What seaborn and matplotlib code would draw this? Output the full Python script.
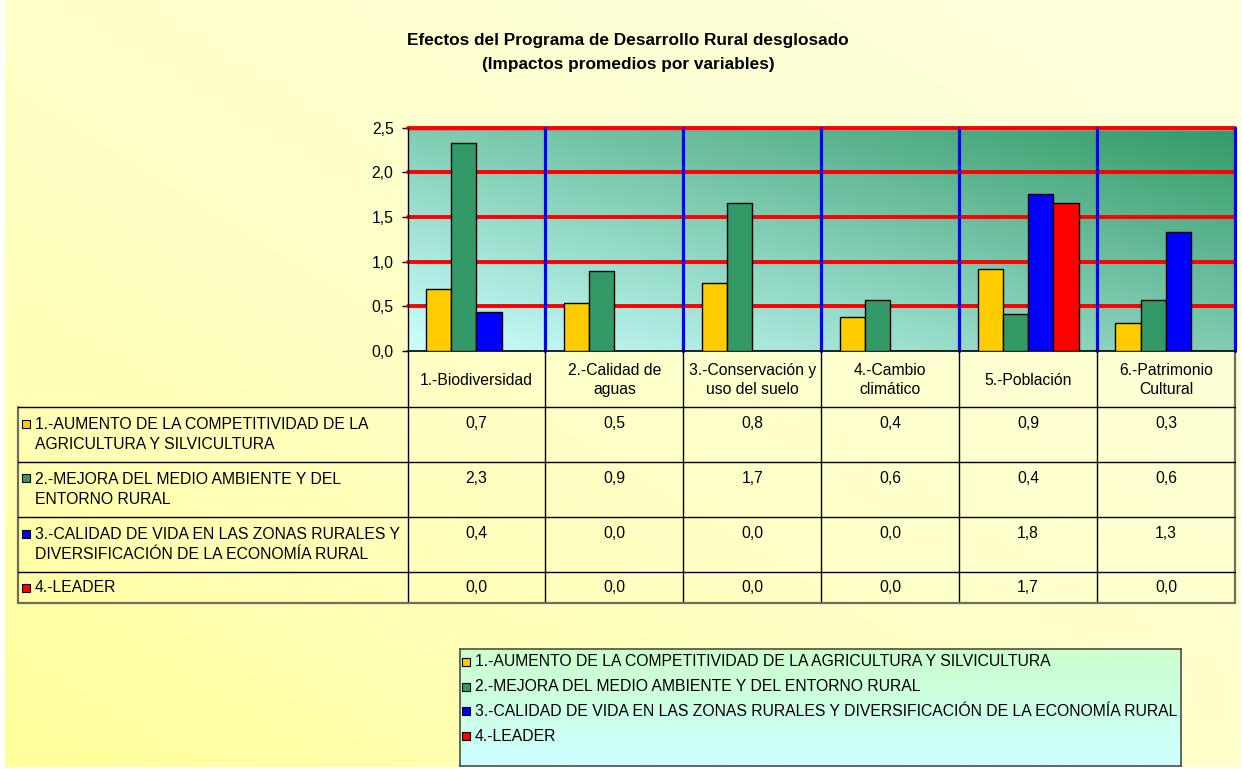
import textwrap
import numpy as np
import pandas as pd
import matplotlib
matplotlib.use("Agg")
import matplotlib.pyplot as plt
from matplotlib.lines import Line2D
from matplotlib.patches import Rectangle
from matplotlib.colors import to_rgb
from matplotlib.ticker import FuncFormatter
import seaborn as sns

# ---- data -------------------------------------------------------------
categories = [
    "1.-Biodiversidad",
    "2.-Calidad de\naguas",
    "3.-Conservación y\nuso del suelo",
    "4.-Cambio\nclimático",
    "5.-Población",
    "6.-Patrimonio\nCultural",
]
series = [
    "1.-AUMENTO DE LA COMPETITIVIDAD DE LA AGRICULTURA Y SILVICULTURA",
    "2.-MEJORA DEL MEDIO AMBIENTE Y DEL ENTORNO RURAL",
    "3.-CALIDAD DE VIDA EN LAS ZONAS RURALES Y DIVERSIFICACIÓN DE LA ECONOMÍA RURAL",
    "4.-LEADER",
]
competitividad = [0.69, 0.54, 0.76, 0.38, 0.92, 0.31]
medio_ambiente = [2.33, 0.90, 1.66, 0.57, 0.41, 0.57]
calidad_vida = [0.44, 0.00, 0.00, 0.00, 1.76, 1.33]
leader = [0.00, 0.00, 0.00, 0.00, 1.66, 0.00]
series_values = [competitividad, medio_ambiente, calidad_vida, leader]
yticks = [0.0, 0.5, 1.0, 1.5, 2.0, 2.5]
title_lines = ["Efectos del Programa de Desarrollo Rural desglosado",
               "(Impactos promedios por variables)"]

colors = ["#FFCC00", "#339966", "#0000FF", "#FF0000"]

rows = []
for s, vals in zip(series, series_values):
    for c, v in zip(categories, vals):
        rows.append({"categoria": c, "serie": s, "valor": v})
df = pd.DataFrame(rows)


def fmt(v):
    return f"{v:.1f}".replace(".", ",")


# ---- figure -----------------------------------------------------------
sns.set_theme(style="white")
plt.rcParams["font.family"] = ["Liberation Sans", "DejaVu Sans"]
FS = 11.3

W, H = 1242, 769
PL, PR, PT, PB = 407.5, 1235.0, 127.5, 351.0   # plot area, pixels
fig = plt.figure(figsize=(W / 100, H / 100), dpi=100)
fig.patch.set_facecolor("white")


def fx(x):
    return x / W


def fy(y):
    return 1 - y / H


# pale yellow diagonal gradient behind the whole chart
bg = fig.add_axes([fx(5), fy(767), fx(1241) - fx(5), fy(0) - fy(767)])
bg.set_axis_off()
u = np.linspace(0, 1, 400)[None, :]
v = np.linspace(0, 1, 300)[:, None]
t = (((1 - u) + v) / 2) ** 2.0
c0, c1 = np.array(to_rgb("#FFFFDA")), np.array(to_rgb("#FFFF99"))
bg.imshow(c0 + (c1 - c0) * t[..., None], aspect="auto", extent=[0, 1, 0, 1])

# ---- bars -------------------------------------------------------------
ax = fig.add_axes([fx(PL), fy(PB), fx(PR) - fx(PL), fy(PT) - fy(PB)])
sns.barplot(data=df, x="categoria", y="valor", hue="serie",
            order=categories, hue_order=series, palette=colors,
            width=0.733, gap=0, saturation=1, errorbar=None,
            edgecolor="black", linewidth=1.0, legend=False, ax=ax)
for p in ax.patches:
    p.set_zorder(3)

# cyan -> green diagonal gradient inside the plot area
u2 = np.linspace(0, 1, 400)[None, :]
v2 = np.linspace(0, 1, 200)[:, None]
t2 = (u2 + (1 - v2)) / 2
g0, g1 = np.array(to_rgb("#CCFFFF")), np.array(to_rgb("#339966"))
ax.imshow(g0 + (g1 - g0) * t2[..., None], aspect="auto",
          extent=[0, 1, 0, 1], transform=ax.transAxes, zorder=0)

# thin grey frame line just under the top gridline
ax.axhline(2.47, color="#8A9A96", lw=0.8, zorder=1)
for yv in yticks[1:]:
    ax.axhline(yv, color="#FF0000", lw=2.8, zorder=1, clip_on=False)
for i in range(len(categories)):
    ax.axvline(i + 0.5, color="#0000FF", lw=2.3, zorder=1, clip_on=False)

ax.set_xlim(-0.5, len(categories) - 0.5)
ax.set_ylim(0, 2.5)
ax.set_yticks(yticks)
ax.yaxis.set_major_formatter(FuncFormatter(lambda val, pos: fmt(val)))
ax.set_xticks([])
ax.set_xlabel("")
ax.set_ylabel("")
ax.tick_params(axis="y", left=True, length=4, width=1, color="black",
               direction="out", labelsize=FS, pad=6, labelcolor="black")
for side in ("top", "right"):
    ax.spines[side].set_visible(False)
ax.spines["left"].set_color("black")
ax.spines["left"].set_linewidth(1.0)
ax.spines["bottom"].set_color("black")
ax.spines["bottom"].set_linewidth(1.2)
ax.set_zorder(2)

# ---- title ------------------------------------------------------------
fig.text(fx(628), fy(40), title_lines[0], ha="center", va="center",
         fontsize=12.4, fontweight="bold", color="black")
fig.text(fx(628), fy(64), title_lines[1], ha="center", va="center",
         fontsize=12.4, fontweight="bold", color="black")

# ---- data table -------------------------------------------------------
TL = 18.0
row_edges = [407.0, 462.0, 517.0, 572.0, 603.0]
bounds = [PL + i * (PR - PL) / len(categories) for i in range(len(categories) + 1)]


def hline(x0, x1, y, color="black", lw=1.0):
    fig.add_artist(Line2D([fx(x0), fx(x1)], [fy(y), fy(y)],
                          transform=fig.transFigure, color=color, lw=lw))


def vline(x, y0, y1, color="black", lw=1.0):
    fig.add_artist(Line2D([fx(x), fx(x)], [fy(y0), fy(y1)],
                          transform=fig.transFigure, color=color, lw=lw))


edge_gray = "#6E6E5A"
for b in bounds[:-1]:
    vline(b, PB, row_edges[-1])
vline(bounds[-1], PB, row_edges[-1], color=edge_gray, lw=1.6)
vline(TL, row_edges[0], row_edges[-1], color=edge_gray, lw=1.6)
for y in row_edges[:-1]:
    hline(TL, PR, y)
hline(TL, PR, row_edges[-1], color=edge_gray, lw=1.6)

# category headers
for i, c in enumerate(categories):
    fig.text(fx((bounds[i] + bounds[i + 1]) / 2), fy((PB + row_edges[0]) / 2 + 1),
             c, ha="center", va="center", fontsize=FS, linespacing=1.4,
             color="black")

# series rows
for r, (s, vals, col) in enumerate(zip(series, series_values, colors)):
    y0, y1 = row_edges[r], row_edges[r + 1]
    label = textwrap.fill(s, width=41)
    nlines = label.count("\n") + 1
    yc = (y0 + y1) / 2
    first = yc - (nlines - 1) * 11
    fig.text(fx(35), fy(yc), label, ha="left", va="center", fontsize=FS,
             linespacing=1.4, color="black")
    fig.add_artist(Rectangle((fx(22), fy(first + 4)), fx(8), 8 / H,
                             transform=fig.transFigure, facecolor=col,
                             edgecolor="black", lw=0.8))
    for i, val in enumerate(vals):
        fig.text(fx((bounds[i] + bounds[i + 1]) / 2), fy(first), fmt(val),
                 ha="center", va="center", fontsize=FS, color="black")

# ---- legend box -------------------------------------------------------
LX0, LX1, LY0, LY1 = 460.0, 1181.0, 649.0, 766.0
lg = fig.add_axes([fx(LX0), fy(LY1), fx(LX1) - fx(LX0), fy(LY0) - fy(LY1)])
tv = np.linspace(0, 1, 100)[:, None, None]
l0, l1 = np.array(to_rgb("#CCFFCC")), np.array(to_rgb("#CCFFFF"))
lg.imshow(l0 + (l1 - l0) * tv * np.ones((1, 10, 1)), aspect="auto",
          extent=[0, 1, 0, 1])
lg.set_xticks([])
lg.set_yticks([])
for sp in lg.spines.values():
    sp.set_color("#4D4D4D")
    sp.set_linewidth(1.2)

for i, (s, col) in enumerate(zip(series, colors)):
    y = 662 + 24.7 * i
    fig.add_artist(Rectangle((fx(462), fy(y + 4)), fx(8), 8 / H,
                             transform=fig.transFigure, facecolor=col,
                             edgecolor="black", lw=0.8))
    fig.text(fx(475), fy(y), s, ha="left", va="center", fontsize=FS,
             color="black")

fig.savefig("out.png", dpi=100)
